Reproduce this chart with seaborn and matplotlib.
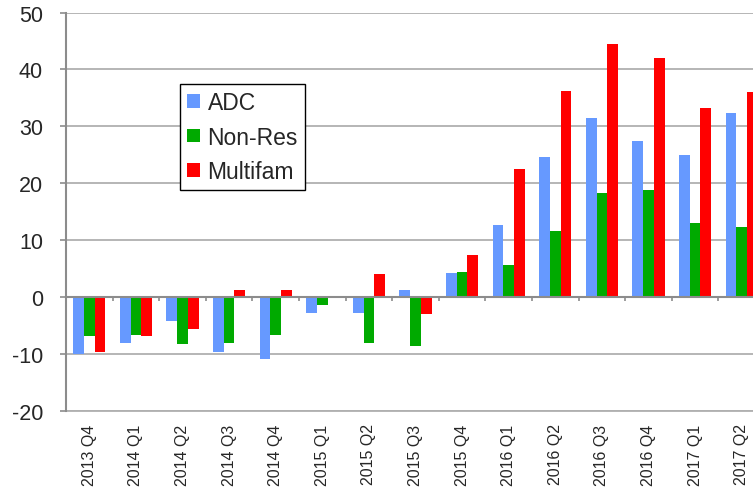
import numpy as np
import pandas as pd
import seaborn as sns
import matplotlib.pyplot as plt

quarters = ["2013 Q4", "2014 Q1", "2014 Q2", "2014 Q3", "2014 Q4",
            "2015 Q1", "2015 Q2", "2015 Q3", "2015 Q4",
            "2016 Q1", "2016 Q2", "2016 Q3", "2016 Q4",
            "2017 Q1", "2017 Q2"]
adc = [-10.0, -8.1, -4.2, -9.7, -10.8, -2.8, -2.7, 1.3, 4.3,
       12.7, 24.6, 31.4, 27.5, 25.0, 32.4]
non_res = [-6.8, -6.7, -8.3, -8.1, -6.7, -1.4, -8.0, -8.6, 4.4,
           5.6, 11.6, 18.3, 18.8, 13.0, 12.4]
multifam = [-9.7, -6.9, -5.6, 1.3, 1.2, 0.0, 4.0, -2.9, 7.4,
            22.5, 36.2, 44.4, 42.0, 33.3, 36.1]
series = ["ADC", "Non-Res", "Multifam"]
colors = ["#6699FF", "#00AA00", "#FF0000"]

df = pd.DataFrame({"quarter": quarters, "ADC": adc,
                   "Non-Res": non_res, "Multifam": multifam})
df = df.melt(id_vars="quarter", var_name="series", value_name="value")

sns.set_style("white")
plt.rcParams["font.family"] = ["Liberation Sans", "DejaVu Sans"]
plt.rcParams["axes.unicode_minus"] = False

fig = plt.figure(figsize=(7.53, 4.89), dpi=100)
ax = fig.add_axes([66 / 753, 77 / 489, 687 / 753, 398.5 / 489])

sns.barplot(data=df, x="quarter", y="value", hue="series",
            hue_order=series, palette=colors, saturation=1, width=0.69,
            linewidth=0, ax=ax)

gray = "#8c8c8c"
ax.set_ylim(-20, 50)
ax.set_xlim(-0.5, -0.5 + 687 / 46.6)
ax.set_yticks(range(-20, 51, 10))
ax.yaxis.grid(True, color="#b0b0b0", linewidth=1.3)
ax.set_axisbelow(True)
ax.set_xlabel("")
ax.set_ylabel("")

for s in ["top", "right"]:
    ax.spines[s].set_visible(False)
ax.spines["left"].set_color(gray)
ax.spines["left"].set_linewidth(1.5)
ax.spines["bottom"].set_position(("data", 0))
ax.spines["bottom"].set_color(gray)
ax.spines["bottom"].set_linewidth(1.5)

ax.tick_params(axis="y", left=True, length=4.5, width=1.2, color=gray,
               labelsize=15.5, pad=12)
ax.set_xticks(np.arange(0.5, len(quarters) - 0.5, 1))
ax.tick_params(axis="x", bottom=True, length=3, width=1.2, color=gray,
               labelbottom=False)

sec = ax.secondary_xaxis("bottom")
sec.set_xticks(range(len(quarters)), labels=quarters)
sec.tick_params(length=0, labelsize=11.5, labelrotation=90, pad=9)
sec.spines["bottom"].set_color("#b0b0b0")
sec.spines["bottom"].set_linewidth(1.3)

handles, labels = ax.get_legend_handles_labels()
leg = ax.legend(handles, labels, loc="upper left",
                bbox_to_anchor=(0.166, 0.82), fontsize=16.5,
                frameon=True, fancybox=False, edgecolor="black",
                framealpha=1, handlelength=0.55, handleheight=0.55,
                handletextpad=0.35, labelspacing=0.5,
                borderpad=0.3, borderaxespad=0)
leg.get_frame().set_linewidth(1.0)

fig.savefig("out.png", dpi=100)
